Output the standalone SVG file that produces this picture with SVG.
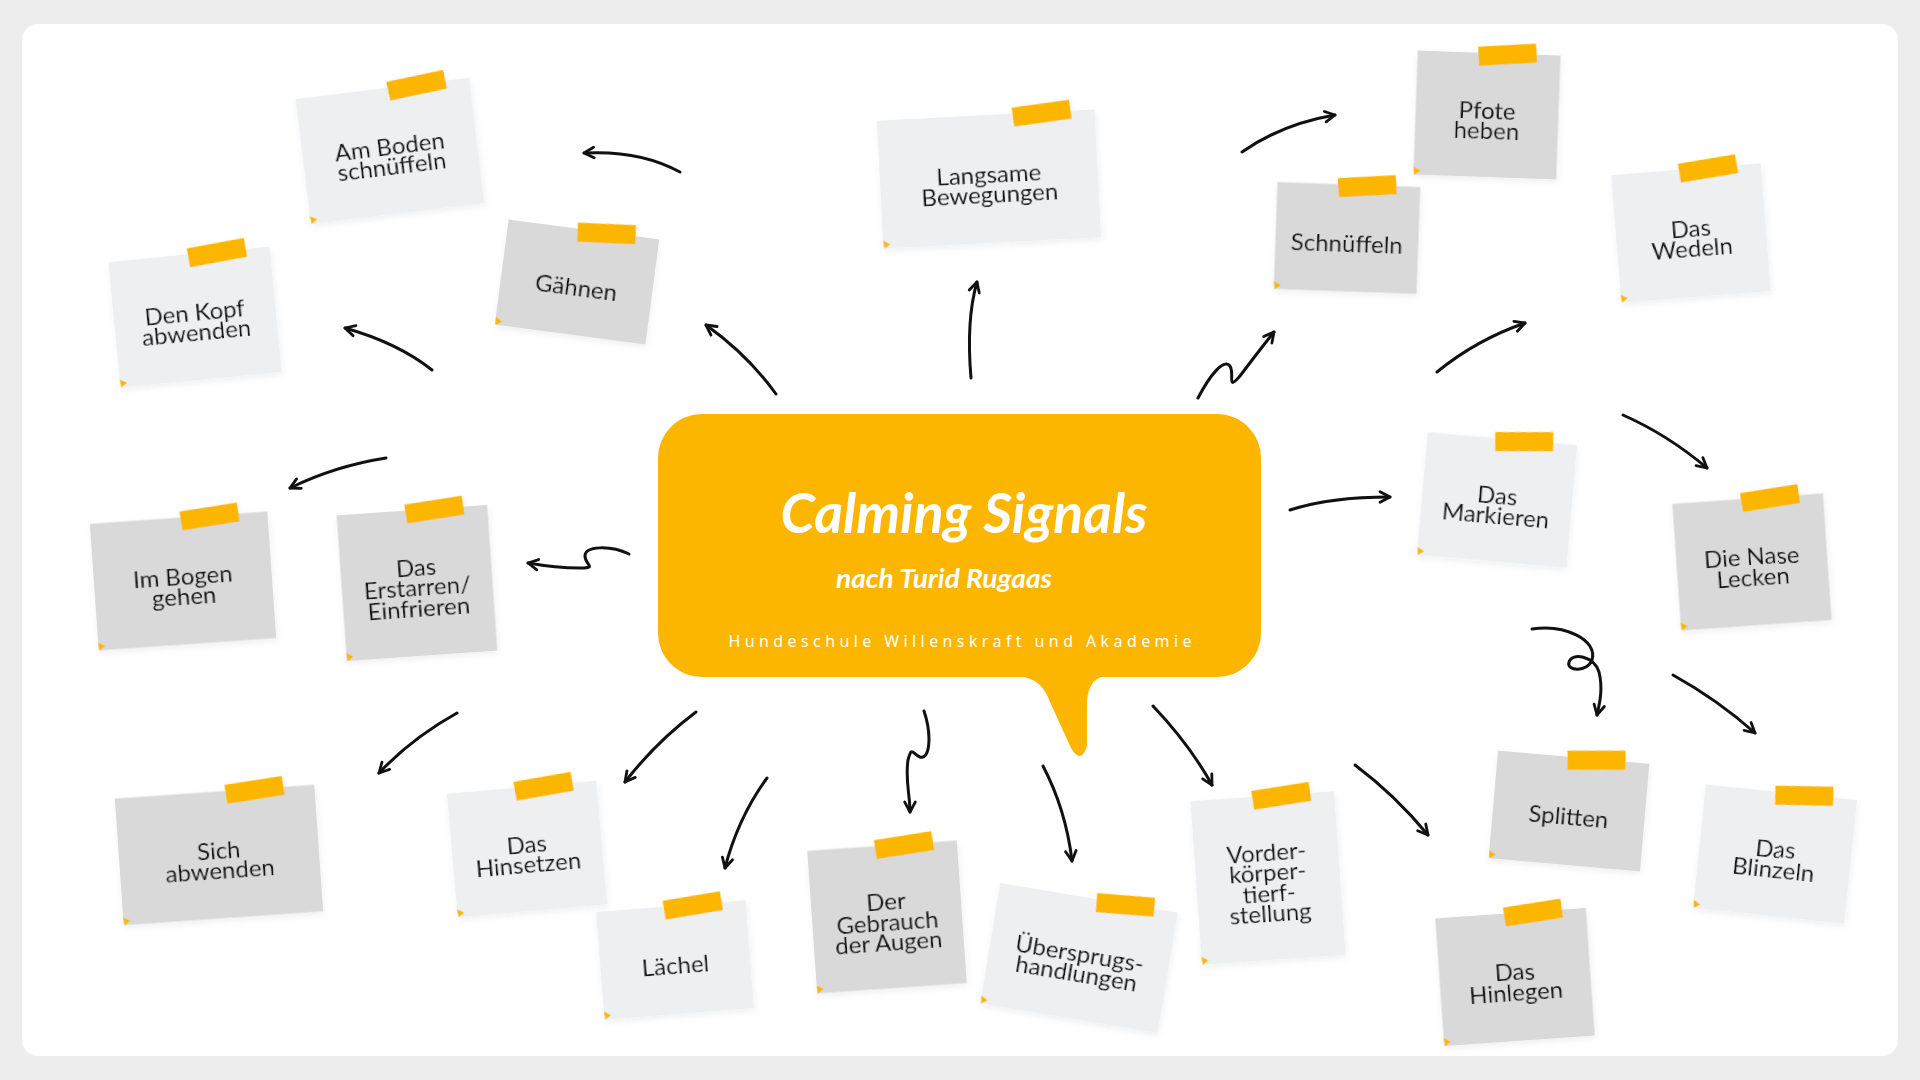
<svg xmlns="http://www.w3.org/2000/svg" width="1920" height="1080" viewBox="0 0 1920 1080">
<defs>
<style>
.lt{fill:#eeeff0}
.dk{fill:#d9d9d9}
.tape,.fold{fill:#fdb600}
.t{font-family:Lato,"Open Sans","Liberation Sans",sans-serif;font-size:24px;fill:#141414;text-anchor:middle}
.note{filter:url(#sh)}
.c path{fill:none;stroke:#111;stroke-width:3;stroke-linecap:round;stroke-linejoin:round;marker-end:url(#ah)}
.h{fill:#ffffff;text-anchor:middle}
</style>
<marker id="ah" viewBox="0 0 12 12" refX="10" refY="6" markerWidth="14" markerHeight="14" markerUnits="userSpaceOnUse" orient="auto">
<path d="M1.5,1.5 L10,6 L1.5,10.5" fill="none" stroke="#111" stroke-width="2.4" stroke-linecap="round" stroke-linejoin="round"/>
</marker>
<filter id="sh" x="-20%" y="-20%" width="140%" height="140%">
<feDropShadow dx="1" dy="3" stdDeviation="3" flood-color="#000" flood-opacity="0.06"/>
</filter>
</defs>
<rect width="1920" height="1080" fill="#ededee"/>
<rect x="22" y="24" width="1876" height="1032" rx="16" fill="#ffffff"/>

<g id="center">
<rect x="658" y="414" width="603" height="263" rx="44" fill="#fdb600"/>
<path d="M1018,676 Q1042,678 1050,702 L1071,748 Q1081,765 1087,746 L1087,702 Q1088,680 1104,676 Z" fill="#fdb600"/>
<text class="h" x="964" y="533" font-family="Lato,'Liberation Sans',sans-serif" font-style="italic" font-weight="700" font-size="56" textLength="367" lengthAdjust="spacingAndGlyphs">Calming Signals</text>
<text class="h" x="944" y="588" font-family="Lato,'Liberation Sans',sans-serif" font-style="italic" font-weight="700" font-size="27" textLength="216" lengthAdjust="spacingAndGlyphs">nach Turid Rugaas</text>
<text class="h" x="960" y="647" font-family="'Noto Sans','Liberation Sans',sans-serif" font-size="16" textLength="463">Hundeschule Willenskraft und Akademie</text>
</g>

<g id="connectors" class="c">
<path d="M680,172 Q640,150 584,153"/>
<path d="M432,370 Q398,343 345,328"/>
<path d="M776,394 Q748,355 706,325"/>
<path d="M971,378 Q966,320 977,282"/>
<path d="M1242,152 Q1282,124 1335,115"/>
<path d="M1198,398 C1210,375 1224,358 1230,366 C1235,374 1226,392 1240,376 Q1258,352 1274,332"/>
<path d="M1437,372 Q1476,340 1525,323"/>
<path d="M1290,510 Q1330,497 1390,497"/>
<path d="M1623,415 Q1668,435 1707,468"/>
<path d="M1532,629 C1565,624 1598,640 1592,660 C1588,672 1566,672 1569,662 C1572,652 1594,656 1599,672 C1603,688 1600,702 1597,715"/>
<path d="M1673,675 Q1718,700 1755,733"/>
<path d="M1355,765 Q1395,795 1428,835"/>
<path d="M1153,706 Q1190,745 1212,785"/>
<path d="M1043,766 Q1066,810 1072,861"/>
<path d="M924,711 C932,735 930,760 920,757 C912,754 912,745 908,760 C905,780 910,795 910,812"/>
<path d="M767,778 Q738,818 725,868"/>
<path d="M696,712 Q656,742 625,782"/>
<path d="M457,713 Q412,738 379,773"/>
<path d="M629,554 C610,545 585,546 585,556 C585,565 598,568 580,568 C562,568 545,566 528,563"/>
<path d="M386,458 Q335,466 290,488"/>
</g>

<g id="n-am-boden" class="note" transform="translate(390,151) rotate(-7)">
<rect class="lt" x="-87.5" y="-63" width="175" height="126"/>
<rect class="tape" x="5.5" y="-71.5" width="58" height="19" transform="rotate(-5,34.5,-62)"/>
<polygon class="fold" points="-87.5,55 -80.5,59 -86.5,63"/>
<text class="t"><tspan x="0" y="3.5">Am Boden</tspan><tspan x="0" y="24">schnüffeln</tspan></text>
</g>

<g id="n-kopf" class="note" transform="translate(195,317) rotate(-5.5)">
<rect class="lt" x="-81" y="-63" width="162" height="126"/>
<rect class="tape" x="-1" y="-71.5" width="58" height="19" transform="rotate(-5,28,-62)"/>
<polygon class="fold" points="-81,55 -74,59 -80,63"/>
<text class="t"><tspan x="0" y="3.5">Den Kopf</tspan><tspan x="0" y="24">abwenden</tspan></text>
</g>

<g id="n-gaehnen" class="note" transform="translate(577,282) rotate(7.5)">
<rect class="dk" x="-76" y="-53" width="152" height="106"/>
<rect class="tape" x="-6" y="-61.5" width="58" height="19" transform="rotate(-5,23,-52)"/>
<polygon class="fold" points="-76,45 -69,49 -75,53"/>
<text class="t" x="0" y="14">Gähnen</text>
</g>

<g id="n-langsam" class="note" transform="translate(989,179) rotate(-3)">
<rect class="lt" x="-109" y="-64" width="218" height="128"/>
<rect class="tape" x="27" y="-72.5" width="58" height="19" transform="rotate(-5,56,-63)"/>
<polygon class="fold" points="-109,56 -102,60 -108,64"/>
<text class="t"><tspan x="0" y="3.5">Langsame</tspan><tspan x="0" y="24">Bewegungen</tspan></text>
</g>

<g id="n-schnueffeln" class="note" transform="translate(1347,238) rotate(2)">
<rect class="dk" x="-71.5" y="-53.5" width="143" height="107"/>
<rect class="tape" x="-10.5" y="-62" width="58" height="19" transform="rotate(-5,18.5,-52.5)"/>
<polygon class="fold" points="-71.5,45.5 -64.5,49.5 -70.5,53.5"/>
<text class="t" x="0" y="14">Schnüffeln</text>
</g>

<g id="n-pfote" class="note" transform="translate(1487,115) rotate(2)">
<rect class="dk" x="-71.5" y="-62" width="143" height="124"/>
<rect class="tape" x="-10.5" y="-70.5" width="58" height="19" transform="rotate(-5,18.5,-61)"/>
<polygon class="fold" points="-71.5,54 -64.5,58 -70.5,62"/>
<text class="t"><tspan x="0" y="3.5">Pfote</tspan><tspan x="0" y="24">heben</tspan></text>
</g>

<g id="n-wedeln" class="note" transform="translate(1691,233) rotate(-4.5)">
<rect class="lt" x="-75" y="-64" width="150" height="128"/>
<rect class="tape" x="-7" y="-72.5" width="58" height="19" transform="rotate(-5,22,-63)"/>
<polygon class="fold" points="-75,56 -68,60 -74,64"/>
<text class="t"><tspan x="0" y="3.5">Das</tspan><tspan x="0" y="24">Wedeln</tspan></text>
</g>

<g id="n-markieren" class="note" transform="translate(1497,500) rotate(5)">
<rect class="lt" x="-75" y="-61.5" width="150" height="123"/>
<rect class="tape" x="-7" y="-70" width="58" height="19" transform="rotate(-5,22,-60.5)"/>
<polygon class="fold" points="-75,53.5 -68,57.5 -74,61.5"/>
<text class="t"><tspan x="0" y="3.5">Das</tspan><tspan x="0" y="24">Markieren</tspan></text>
</g>

<g id="n-nase" class="note" transform="translate(1752,562) rotate(-4)">
<rect class="dk" x="-75.5" y="-63.5" width="151" height="127"/>
<rect class="tape" x="-6.5" y="-72" width="58" height="19" transform="rotate(-5,22.5,-62.5)"/>
<polygon class="fold" points="-75.5,55.5 -68.5,59.5 -74.5,63.5"/>
<text class="t"><tspan x="0" y="3.5">Die Nase</tspan><tspan x="0" y="24">Lecken</tspan></text>
</g>

<g id="n-bogen" class="note" transform="translate(183,581) rotate(-4)">
<rect class="dk" x="-89" y="-63.5" width="178" height="127"/>
<rect class="tape" x="2" y="-72" width="58" height="19" transform="rotate(-5,31,-62.5)"/>
<polygon class="fold" points="-89,55.5 -82,59.5 -88,63.5"/>
<text class="t"><tspan x="0" y="3.5">Im Bogen</tspan><tspan x="0" y="24">gehen</tspan></text>
</g>

<g id="n-erstarren" class="note" transform="translate(417,583) rotate(-4)">
<rect class="dk" x="-75.5" y="-73" width="151" height="146"/>
<rect class="tape" x="-6.5" y="-81.5" width="58" height="19" transform="rotate(-5,22.5,-72)"/>
<polygon class="fold" points="-75.5,65 -68.5,69 -74.5,73"/>
<text class="t"><tspan x="0" y="-7">Das</tspan><tspan x="0" y="13.5">Erstarren/</tspan><tspan x="0" y="34">Einfrieren</tspan></text>
</g>

<g id="n-sich" class="note" transform="translate(219,855) rotate(-4)">
<rect class="dk" x="-100" y="-63.5" width="200" height="127"/>
<rect class="tape" x="11" y="-72" width="58" height="19" transform="rotate(-5,40,-62.5)"/>
<polygon class="fold" points="-100,55.5 -93,59.5 -99,63.5"/>
<text class="t"><tspan x="0" y="3.5">Sich</tspan><tspan x="0" y="24">abwenden</tspan></text>
</g>

<g id="n-hinsetzen" class="note" transform="translate(527,849) rotate(-5)">
<rect class="lt" x="-75" y="-62" width="150" height="124"/>
<rect class="tape" x="-7" y="-70.5" width="58" height="19" transform="rotate(-5,22,-61)"/>
<polygon class="fold" points="-75,54 -68,58 -74,62"/>
<text class="t"><tspan x="0" y="3.5">Das</tspan><tspan x="0" y="24">Hinsetzen</tspan></text>
</g>

<g id="n-laechel" class="note" transform="translate(675,960) rotate(-4.5)">
<rect class="lt" x="-75" y="-54" width="150" height="108"/>
<rect class="tape" x="-7" y="-62.5" width="58" height="19" transform="rotate(-5,22,-53)"/>
<polygon class="fold" points="-75,46 -68,50 -74,54"/>
<text class="t" x="0" y="14">Lächel</text>
</g>

<g id="n-augen" class="note" transform="translate(887,917) rotate(-4)">
<rect class="dk" x="-75" y="-71.5" width="150" height="143"/>
<rect class="tape" x="-7" y="-80" width="58" height="19" transform="rotate(-5,22,-70.5)"/>
<polygon class="fold" points="-75,63.5 -68,67.5 -74,71.5"/>
<text class="t"><tspan x="0" y="-7">Der</tspan><tspan x="0" y="13.5">Gebrauch</tspan><tspan x="0" y="34">der Augen</tspan></text>
</g>

<g id="n-uebersprung" class="note" transform="translate(1079,958) rotate(9.5)">
<rect class="lt" x="-90" y="-61" width="180" height="122"/>
<rect class="tape" x="8" y="-69.5" width="58" height="19" transform="rotate(-5,37,-60)"/>
<polygon class="fold" points="-90,53 -83,57 -89,61"/>
<text class="t"><tspan x="0" y="3.5">Übersprugs-</tspan><tspan x="0" y="24">handlungen</tspan></text>
</g>

<g id="n-vorder" class="note" transform="translate(1268,878) rotate(-4)">
<rect class="lt" x="-72" y="-82" width="144" height="164"/>
<rect class="tape" x="-10" y="-90.5" width="58" height="19" transform="rotate(-5,19,-81)"/>
<polygon class="fold" points="-72,74 -65,78 -71,82"/>
<text class="t"><tspan x="0" y="-17.5">Vorder-</tspan><tspan x="0" y="3">körper-</tspan><tspan x="0" y="23.5">tierf-</tspan><tspan x="0" y="44">stellung</tspan></text>
</g>

<g id="n-hinlegen" class="note" transform="translate(1515,977) rotate(-4)">
<rect class="dk" x="-75.5" y="-64" width="151" height="128"/>
<rect class="tape" x="-6.5" y="-72.5" width="58" height="19" transform="rotate(-5,22.5,-63)"/>
<polygon class="fold" points="-75.5,56 -68.5,60 -74.5,64"/>
<text class="t"><tspan x="0" y="3.5">Das</tspan><tspan x="0" y="24">Hinlegen</tspan></text>
</g>

<g id="n-splitten" class="note" transform="translate(1569,811) rotate(5)">
<rect class="dk" x="-76" y="-54" width="152" height="108"/>
<rect class="tape" x="-6" y="-62.5" width="58" height="19" transform="rotate(-5,23,-53)"/>
<polygon class="fold" points="-76,46 -69,50 -75,54"/>
<text class="t" x="0" y="14">Splitten</text>
</g>

<g id="n-blinzeln" class="note" transform="translate(1775,854) rotate(6)">
<rect class="lt" x="-76" y="-62" width="152" height="124"/>
<rect class="tape" x="-6" y="-70.5" width="58" height="19" transform="rotate(-5,23,-61)"/>
<polygon class="fold" points="-76,54 -69,58 -75,62"/>
<text class="t"><tspan x="0" y="3.5">Das</tspan><tspan x="0" y="24">Blinzeln</tspan></text>
</g>
</svg>
